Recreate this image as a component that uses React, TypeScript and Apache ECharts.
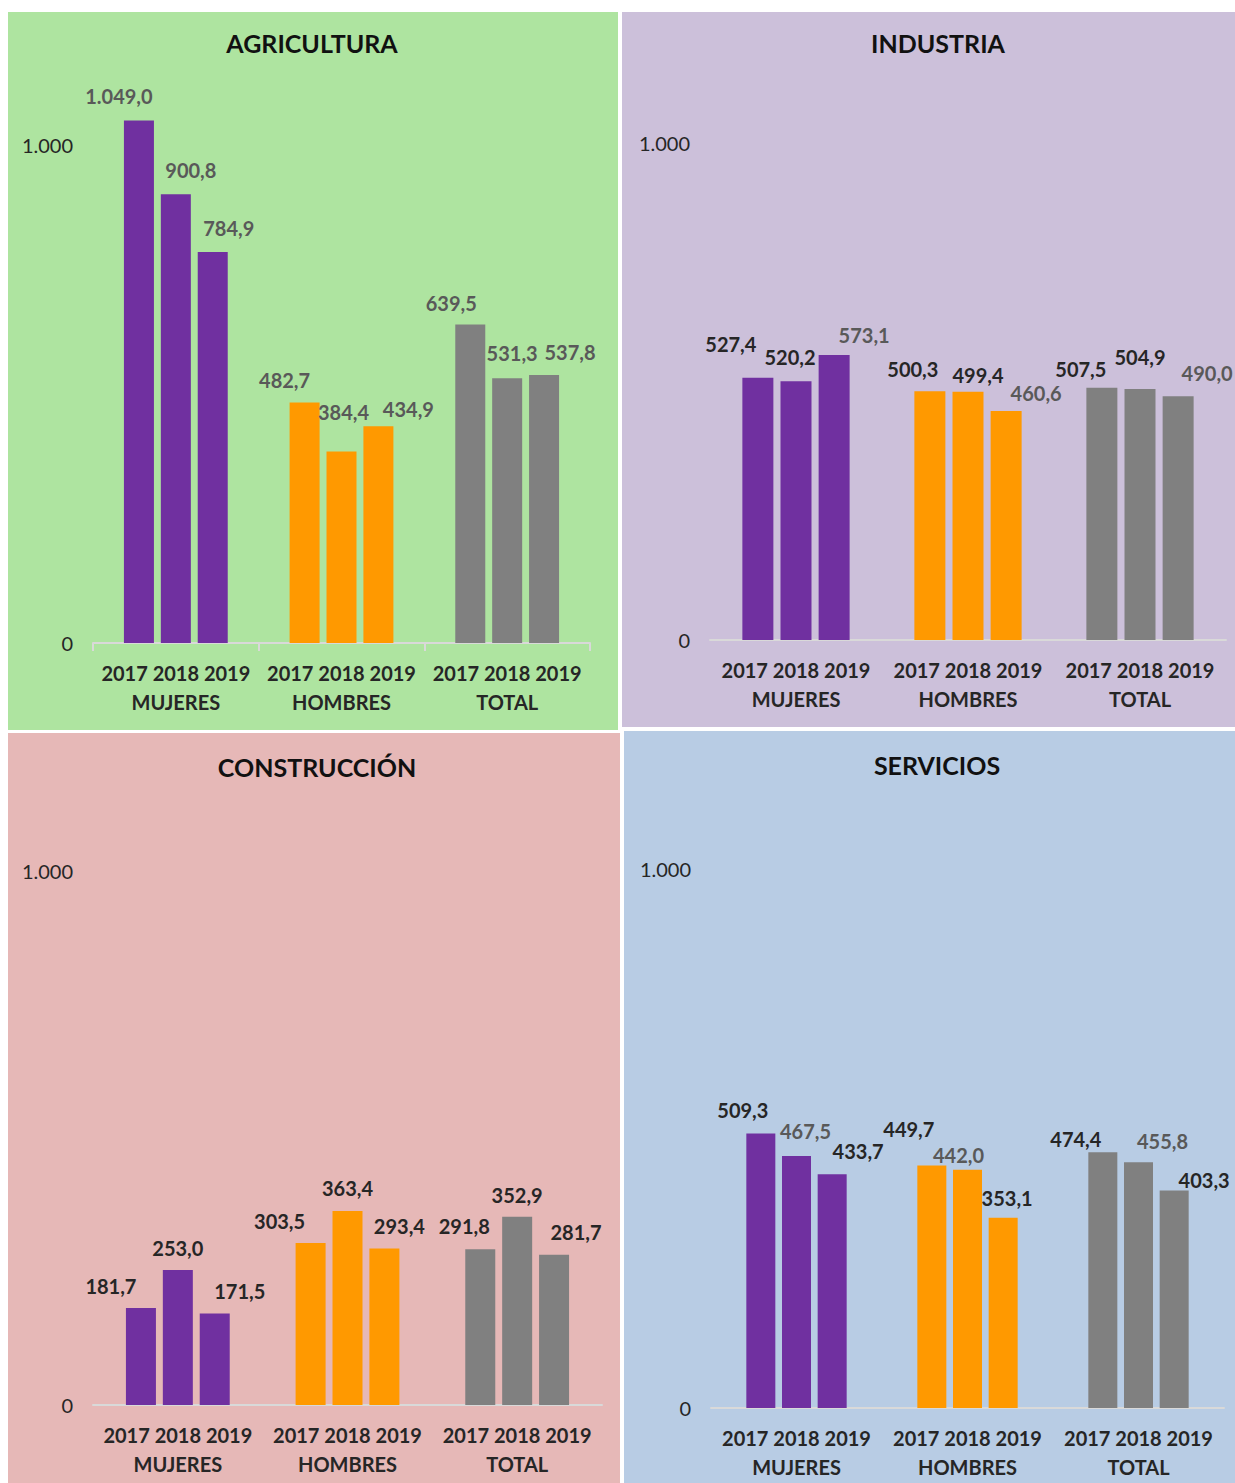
import React, { useEffect, useRef } from "react";
import * as echarts from "echarts";

const years = ["2017", "2018", "2019"];
const groups = ["MUJERES", "HOMBRES", "TOTAL"];
const sectors = ["AGRICULTURA", "INDUSTRIA", "CONSTRUCCIÓN", "SERVICIOS"];

// values: [2017, 2018, 2019]
const agriculturaMujeres = [1049.0, 900.8, 784.9];
const agriculturaHombres = [482.7, 384.4, 434.9];
const agriculturaTotal = [639.5, 531.3, 537.8];

const industriaMujeres = [527.4, 520.2, 573.1];
const industriaHombres = [500.3, 499.4, 460.6];
const industriaTotal = [507.5, 504.9, 490.0];

const construccionMujeres = [181.7, 253.0, 171.5];
const construccionHombres = [303.5, 363.4, 293.4];
const construccionTotal = [291.8, 352.9, 281.7];

const serviciosMujeres = [509.3, 467.5, 433.7];
const serviciosHombres = [449.7, 442.0, 353.1];
const serviciosTotal = [474.4, 455.8, 403.3];

const yTicks = [0, 1000];

const groupColors = ["#7030A0", "#FF9900", "#808080"];
const FONT = "Lato, 'Open Sans', sans-serif";
const DARK = "#262626";
const GRAY = "#595959";

type Panel = {
  title: string;
  data: number[][];
  bg: [number, number, number, number];
  color: string;
  titlePos: [number, number];
  grid: { left: number; width: number; top: number; height: number };
  barWidth: number;
  ticks: boolean;
  offsets: number[][][];
  gray: boolean[][];
};

const panels: Panel[] = [
  {
    title: sectors[0],
    data: [agriculturaMujeres, agriculturaHombres, agriculturaTotal],
    bg: [8, 12, 610, 718],
    color: "#AEE4A0",
    titlePos: [312, 30],
    grid: { left: 93, width: 497, top: 95, height: 548 },
    barWidth: 30,
    ticks: true,
    offsets: [
      [[-20, -9], [15, -9], [16, -9]],
      [[-20, -8], [2, -24], [30, -2]],
      [[-19, -6], [5, -10], [26, -8]],
    ],
    gray: [
      [true, true, true],
      [true, true, true],
      [true, true, true],
    ],
  },
  {
    title: sectors[1],
    data: [industriaMujeres, industriaHombres, industriaTotal],
    bg: [622, 12, 613, 715],
    color: "#CCC0DA",
    titlePos: [938, 30],
    grid: { left: 710, width: 516, top: 93, height: 547 },
    barWidth: 31,
    ticks: false,
    offsets: [
      [[-27, -19], [-6, -9], [30, -5]],
      [[-17, -7], [10, -2], [30, -3]],
      [[-21, -4], [0, -17], [29, -8]],
    ],
    gray: [
      [false, false, true],
      [false, false, true],
      [false, false, true],
    ],
  },
  {
    title: sectors[2],
    data: [construccionMujeres, construccionHombres, construccionTotal],
    bg: [8, 733, 612, 750],
    color: "#E6B8B7",
    titlePos: [317, 754],
    grid: { left: 93, width: 509, top: 818, height: 587 },
    barWidth: 30,
    ticks: false,
    offsets: [
      [[-30, -7], [0, -7], [25, -7]],
      [[-31, -7], [0, -8], [15, -7]],
      [[-16, -8], [0, -7], [22, -8]],
    ],
    gray: [
      [false, false, false],
      [false, false, false],
      [false, false, false],
    ],
  },
  {
    title: sectors[3],
    data: [serviciosMujeres, serviciosHombres, serviciosTotal],
    bg: [624, 731, 611, 752],
    color: "#B8CCE4",
    titlePos: [937, 752],
    grid: { left: 711, width: 513, top: 815, height: 593 },
    barWidth: 29,
    ticks: false,
    offsets: [
      [[-18, -8], [9, -10], [26, -8]],
      [[-23, -22], [-9, 0], [4, -5]],
      [[-27, 2], [24, -6], [30, 4]],
    ],
    gray: [
      [false, true, false],
      [false, true, false],
      [false, true, false],
    ],
  },
];

function fmt(v: number): string {
  const [intPart, dec] = v.toFixed(1).split(".");
  const withDots = intPart.replace(/\B(?=(\d{3})+(?!\d))/g, ".");
  return withDots + "," + dec;
}

function buildOption() {
  const grids: any[] = [];
  const xAxes: any[] = [];
  const yAxes: any[] = [];
  const series: any[] = [];
  const titles: any[] = [];
  const graphics: any[] = [];

  panels.forEach((p, pi) => {
    graphics.push({
      type: "rect",
      z: -10,
      shape: { x: p.bg[0], y: p.bg[1], width: p.bg[2], height: p.bg[3] },
      style: { fill: p.color },
      silent: true,
    });
    titles.push({
      text: p.title,
      left: p.titlePos[0],
      top: p.titlePos[1],
      padding: 0,
      textAlign: "center",
      textStyle: { fontFamily: FONT, fontSize: 25, fontWeight: "bold", color: "#111" },
    });
    grids.push({ ...p.grid, containLabel: false });
    xAxes.push({
      type: "category",
      gridIndex: pi,
      data: groups,
      boundaryGap: true,
      axisLine: { show: true, lineStyle: { color: "#D9D9D9", width: 2 } },
      axisTick: { show: p.ticks, length: 8, lineStyle: { color: "#D9D9D9", width: 2 } },
      axisLabel: {
        margin: 15,
        interval: 0,
        formatter: (v: string) => `{y|${years.join(" ")}}\n{g|${v}}`,
        rich: {
          y: { fontFamily: FONT, fontSize: 20, fontWeight: "bold", color: DARK, lineHeight: 29 },
          g: { fontFamily: FONT, fontSize: 20, fontWeight: "bold", color: DARK, lineHeight: 29 },
        },
      },
    });
    yAxes.push({
      type: "value",
      gridIndex: pi,
      min: 0,
      max: 1100,
      interval: 1000,
      axisLine: { show: false },
      axisTick: { show: false },
      splitLine: { show: false },
      axisLabel: {
        margin: 20,
        fontFamily: FONT,
        fontSize: 20,
        color: DARK,
        formatter: (v: number) => (yTicks.includes(v) ? fmt(v).replace(",0", "") : ""),
      },
    });
    years.forEach((yr, yi) => {
      series.push({
        type: "bar",
        name: `${p.title} ${yr}`,
        xAxisIndex: pi,
        yAxisIndex: pi,
        barWidth: p.barWidth,
        barGap: "23%",
        data: p.data.map((arr, gi) => ({
          value: arr[yi],
          itemStyle: { color: groupColors[gi] },
          label: {
            offset: p.offsets[gi][yi],
            color: p.gray[gi][yi] ? GRAY : DARK,
          },
        })),
        label: {
          show: true,
          position: "top",
          distance: 5,
          fontFamily: FONT,
          fontSize: 20,
          fontWeight: "bold",
          formatter: (params: any) => fmt(params.value),
        },
      });
    });
  });

  return {
    animation: false,
    backgroundColor: "#FFFFFF",
    title: titles,
    grid: grids,
    xAxis: xAxes,
    yAxis: yAxes,
    series,
    graphic: graphics,
  };
}

export default function App() {
  const ref = useRef<HTMLDivElement>(null);
  useEffect(() => {
    if (!ref.current) return;
    const chart = echarts.init(ref.current, undefined, { renderer: "svg" });
    chart.setOption(buildOption() as any);
    return () => chart.dispose();
  }, []);
  return (
    <div
      ref={ref}
      style={{ position: "absolute", left: 0, top: 0, width: 1235, height: 1483 }}
    />
  );
}
